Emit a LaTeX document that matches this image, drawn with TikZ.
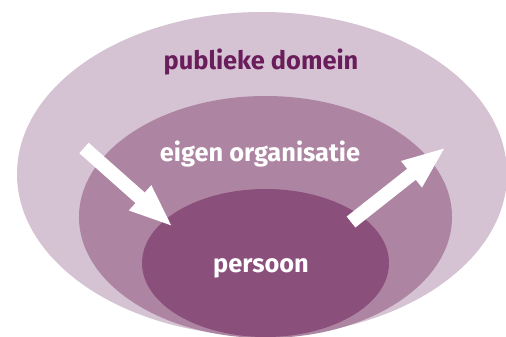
\documentclass[tikz,border=0pt]{standalone}
\usepackage{fontspec}
\setmainfont{Fira Sans}
\usetikzlibrary{shapes.geometric, arrows.meta}
\definecolor{ringout}{HTML}{D5C2D2}
\definecolor{ringmid}{HTML}{AD85A3}
\definecolor{ringin}{HTML}{8B4F7B}
\definecolor{labeldark}{HTML}{6A1D5B}
\begin{document}
\begin{tikzpicture}[x=1bp, y=-1bp,
    ring/.style={ellipse, inner sep=0pt, draw=none},
    lbl/.style={font=\fontsize{25.5}{28}\selectfont\bfseries},
    flow/.style={draw=white, line width=14bp, -{Triangle[length=44bp, width=30bp]}}]
            \useasboundingbox (0,0) rectangle (506,336);
            \clip (0,0) rectangle (506,336);
            \node[ring, fill=ringout, minimum width=490bp, minimum height=324bp] (domein) at (262,174) {};
            \node[ring, fill=ringmid, minimum width=373bp, minimum height=242bp] (organisatie) at (265.5,217) {};
            \node[ring, fill=ringin, minimum width=247bp, minimum height=148bp] (persoon) at (265.5,263) {};
            \node[lbl, text=labeldark] (tdomein) at (261,62) {publieke domein};
            \node[lbl, text=white] (torganisatie) at (260,154) {eigen organisatie};
            \node[lbl, text=white] (tpersoon) at (261,268) {persoon};
            \coordinate (inA) at (84,148);
            \coordinate (inB) at (173,227);
            \coordinate (outA) at (351,222);
            \coordinate (outB) at (446,147);
            \draw[flow] (inA) -- (inB);
            \draw[flow] (outA) -- (outB);
        \end{tikzpicture}
\end{document}
